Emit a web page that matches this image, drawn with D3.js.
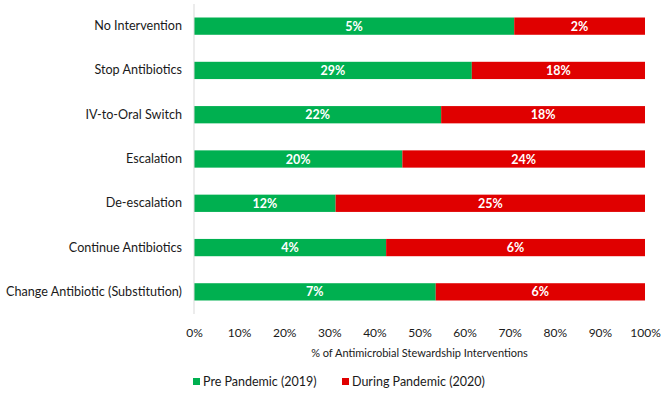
<!DOCTYPE html>
<html>
<head>
<meta charset="utf-8">
<script src="https://cdn.jsdelivr.net/npm/d3@7"></script>
<style>
  body { margin: 0; background: #fff; }
  svg { display: block; font-family: Lato, "Open Sans", sans-serif; }
</style>
</head>
<body>
<div id="chart"></div>
<script>
// stewardship interventions, share of each row (pre vs during)
const categories = [
    "No Intervention",
    "Stop Antibiotics",
    "IV-to-Oral Switch",
    "Escalation",
    "De-escalation",
    "Continue Antibiotics",
    "Change Antibiotic (Substitution)"
];
const preShare = [71, 61.6, 54.8, 46.2, 31.4, 42.6, 53.6];
const duringShare = [29, 38.4, 45.2, 53.8, 68.6, 57.4, 46.4];
const preLabels = ["5%", "29%", "22%", "20%", "12%", "4%", "7%"];
const duringLabels = ["2%", "18%", "18%", "24%", "25%", "6%", "6%"];
const tickValues = [0, 10, 20, 30, 40, 50, 60, 70, 80, 90, 100];
const seriesNames = ["Pre Pandemic (2019)", "During Pandemic (2020)"];
const colors = ["#00b050", "#e00000"];

const width = 663, height = 404;
const svg = d3.select("#chart").append("svg")
    .attr("width", width)
    .attr("height", height);

const x = d3.scaleLinear().domain([0, 100]).range([194, 645]);
const y = d3.scaleBand().domain(categories).range([4, 314]).paddingInner(0.61).paddingOuter(0.305);

const rows = categories.map((c, i) => ({
    cat: c,
    parts: [
        { x0: 0, x1: preShare[i], label: preLabels[i], color: colors[0] },
        { x0: preShare[i], x1: preShare[i] + duringShare[i], label: duringLabels[i], color: colors[1] }
    ]
}));

rows.forEach(r => {
    r.parts.forEach(p => {
        svg.append("rect")
            .attr("x", x(p.x0))
            .attr("y", y(r.cat))
            .attr("width", x(Math.min(p.x1, 100)) - x(p.x0))
            .attr("height", y.bandwidth())
            .attr("fill", p.color);

        svg.append("text")
            .attr("x", (x(p.x0) + x(Math.min(p.x1, 100))) / 2)
            .attr("y", y(r.cat) + y.bandwidth() / 2 + 4.5)
            .attr("text-anchor", "middle")
            .attr("fill", "#fff")
            .attr("font-size", "12.5px")
            .attr("font-weight", "bold")
            .text(p.label);
    });
});

// category axis
const yAxis = svg.append("g")
    .attr("transform", `translate(${x(0)},0)`)
    .call(d3.axisLeft(y).tickSize(0).tickPadding(12));
yAxis.select(".domain").attr("stroke", "#d9d9d9").attr("d", `M0,4V314`);
yAxis.selectAll("text")
    .attr("fill", "#1a1a1a")
    .style("font-size", "12.6px")
    .style("font-family", "Lato, sans-serif");

// value axis
const xAxis = svg.append("g")
    .attr("transform", "translate(0,320)")
    .call(d3.axisBottom(x).tickValues(tickValues).tickFormat(d => d + "%").tickSize(0).tickPadding(8));
xAxis.select(".domain").remove();
xAxis.selectAll("text")
    .attr("fill", "#1a1a1a")
    .style("font-size", "12px")
    .style("font-family", "Lato, sans-serif");

svg.append("text")
    .attr("x", (x(0) + x(100)) / 2)
    .attr("y", 357)
    .attr("text-anchor", "middle")
    .attr("fill", "#1a1a1a")
    .attr("font-size", "11px")
    .text("% of Antimicrobial Stewardship Interventions");

// legend
const legendX = [193, 342];
seriesNames.forEach((name, i) => {
    svg.append("rect")
        .attr("x", legendX[i])
        .attr("y", 378)
        .attr("width", 7)
        .attr("height", 7)
        .attr("fill", colors[i]);
    svg.append("text")
        .attr("x", legendX[i] + 10)
        .attr("y", 386)
        .attr("fill", "#1a1a1a")
        .attr("font-size", "12.5px")
        .text(name);
});
</script>
</body>
</html>
